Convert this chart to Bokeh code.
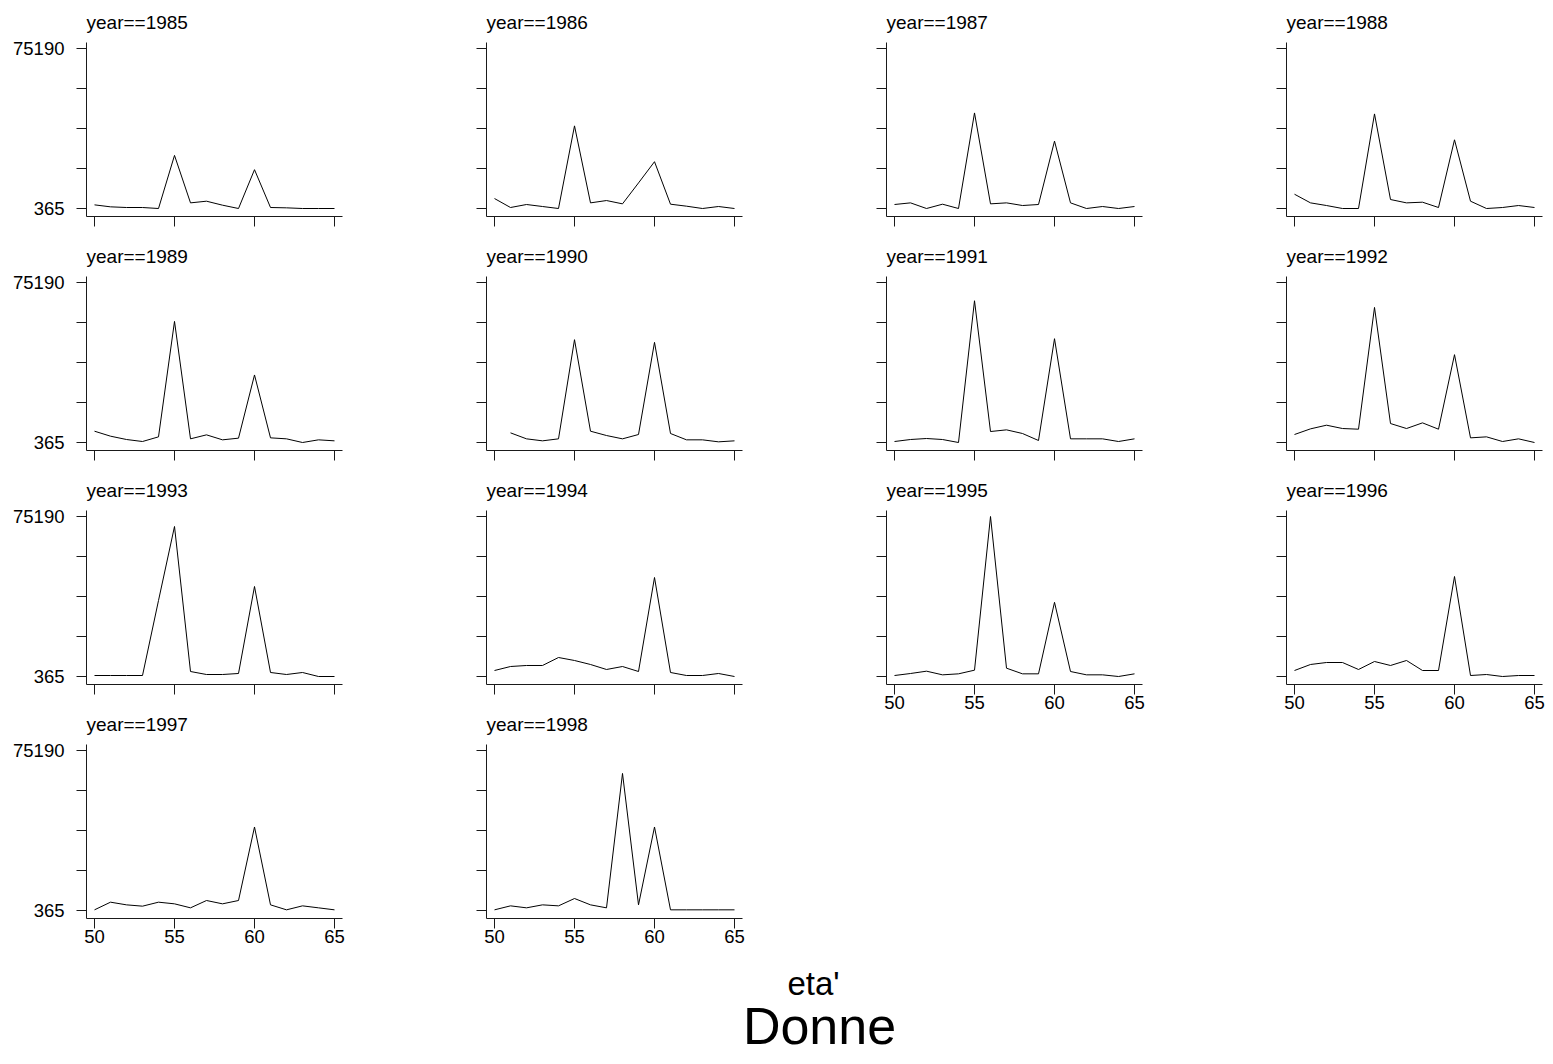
import math
from bokeh.plotting import figure
from bokeh.models import Range1d, FixedTicker, NumeralTickFormatter, Label
from bokeh.layouts import row, column
from bokeh.embed import file_html
from bokeh.resources import INLINE

# ---------------- data ----------------
ages = [50, 51, 52, 53, 54, 55, 56, 57, 58, 59, 60, 61, 62, 63, 64, 65]
nan = float("nan")

y1985 = [2070, 1140, 830, 830, 365, 25200, 3000, 3780, 1920, 365, 18520, 830, 675, 365, 365, 365]
y1986 = [5020, 830, 2230, 1300, 365, 39010, 3000, 4090, 2540, 12320, 22250, 2380, 1450, 365, 1300, 365]
y1987 = [2230, 3000, 365, 2380, 365, 45060, 2540, 3000, 1760, 2230, 31870, 3000, 365, 1300, 365, 1300]
y1988 = [7040, 3000, 1760, 365, 365, 44600, 4560, 3000, 3310, 830, 32490, 3780, 365, 830, 1760, 830]
y1989 = [5655, 3320, 1765, 830, 3010, 57000, 2075, 3945, 1610, 2390, 31950, 2540, 2075, 365, 1610, 1145]
y1990 = [nan, 4880, 2075, 1145, 2075, 48450, 5655, 3630, 2075, 4100, 47200, 4570, 1610, 1610, 676, 1145]
y1991 = [832, 1765, 2232, 1765, 365, 66650, 5500, 6280, 4570, 1300, 48910, 2075, 2075, 2075, 832, 2075]
y1992 = [4100, 6745, 8455, 6900, 6590, 63540, 9235, 6900, 9545, 6590, 41440, 2540, 3010, 830, 2075, 365]
y1993 = [830, 830, 830, 830, 35900, 70520, 2700, 1300, 1300, 1770, 42460, 2240, 1300, 2240, 365, 365]
y1994 = [3170, 5040, 5510, 5510, 9250, 7850, 5980, 3640, 5040, 2700, 46670, 2240, 830, 830, 1770, 365]
y1995 = [832, 1765, 2855, 1145, 1610, 3320, 75190, 4255, 1610, 1610, 35060, 2700, 1145, 1145, 365, 1610]
y1996 = [3170, 5980, 6910, 6910, 3640, 7380, 5510, 7850, 3170, 3170, 47130, 830, 1300, 365, 830, 830]
y1997 = [676, 4255, 3010, 2390, 4255, 3480, 1610, 5035, 3480, 5035, 39420, 3010, 676, 2540, 1610, 676]
y1998 = [676, 2540, 1610, 3010, 2540, 5970, 3010, 1610, 64470, 3010, 39420, 676, 676, 676, 676, 676]

years = [1985, 1986, 1987, 1988, 1989, 1990, 1991, 1992, 1993, 1994, 1995, 1996, 1997, 1998]
series = [y1985, y1986, y1987, y1988, y1989, y1990, y1991, y1992, y1993, y1994, y1995, y1996, y1997, y1998]

y_labels = [365, 75190]
y_minor = [19071.25, 37777.5, 56483.75]
x_ticks = [50, 55, 60, 65]

x_title = "eta'"
main_title = "Donne"

# ---------------- layout constants ----------------
FONT = "Liberation Sans"
FW, FH = 256, 174
LEFT, RIGHT, RIGHT_LAST = 86, 58, 3
TOP, BOT, BOT_LAB = 42, 18, 36
AXC = "#1a1a1a"

ppy = (y_labels[1] - y_labels[0]) / 160.0
Y_LO = y_labels[0] - 8 * ppy
Y_HI = y_labels[1] + 6 * ppy


def panel(year, vals, show_y, show_x, last_col):
    p = figure(frame_width=FW, frame_height=FH,
               x_range=Range1d(49.5, 65.5), y_range=Range1d(Y_LO, Y_HI),
               output_backend="svg", toolbar_location=None,
               min_border_left=LEFT, min_border_right=RIGHT_LAST if last_col else RIGHT,
               min_border_top=TOP, min_border_bottom=BOT_LAB if show_x else BOT,
               title="year==%d" % year)
    p.title.text_font = FONT
    p.title.text_font_size = "19px"
    p.title.text_font_style = "normal"
    p.title.text_color = "black"
    p.title.align = "left"
    p.title.offset = 0
    p.title.standoff = 19
    p.grid.visible = False
    p.outline_line_color = None
    p.background_fill_color = "white"
    p.border_fill_color = "white"

    p.line(ages, vals, line_color="black", line_width=1)

    xa = p.xaxis[0]
    if show_x:
        xa.ticker = FixedTicker(ticks=x_ticks, minor_ticks=[])
    else:
        xa.ticker = FixedTicker(ticks=[], minor_ticks=x_ticks)
    ya = p.yaxis[0]
    if show_y:
        ya.ticker = FixedTicker(ticks=y_labels, minor_ticks=y_minor)
    else:
        ya.ticker = FixedTicker(ticks=[], minor_ticks=y_labels + y_minor)
    ya.formatter = NumeralTickFormatter(format="0")
    xa.formatter = NumeralTickFormatter(format="0")

    for ax in (xa, ya):
        ax.axis_line_color = AXC
        ax.axis_line_width = 1
        ax.major_tick_line_color = AXC
        ax.minor_tick_line_color = AXC
        ax.major_tick_out = 10
        ax.minor_tick_out = 10
        ax.major_tick_in = 0
        ax.minor_tick_in = 0
        ax.major_label_text_font = FONT
        ax.major_label_text_font_size = "18.5px"
        ax.major_label_text_color = "black"
    xa.major_label_standoff = 1
    ya.major_label_standoff = 12
    return p


figs = [None] * len(years)
for i, (yr, vals) in enumerate(zip(years, series)):
    r, c = divmod(i, 4)
    show_y = (c == 0)
    show_x = yr in (1995, 1996, 1997, 1998)
    figs[i] = panel(yr, vals, show_y, show_x, c == 3)

cols = []
for c in range(4):
    cols.append(column([figs[i] for i in range(c, len(figs), 4)], spacing=0))
grid = row(cols, spacing=0)

TOTW = 3 * (LEFT + FW + RIGHT) + (LEFT + FW + RIGHT_LAST)
BH = 102
bottom = figure(width=TOTW, height=BH, x_range=Range1d(0, TOTW), y_range=Range1d(0, BH),
                x_axis_type=None, y_axis_type=None, output_backend="svg",
                toolbar_location=None, min_border=0)
bottom.grid.visible = False
bottom.outline_line_color = None
bottom.add_layout(Label(x=813, y=73, text=x_title, text_font=FONT, text_font_size="33px",
                        text_align="center", text_baseline="alphabetic", text_color="black"))
bottom.add_layout(Label(x=819, y=31, text=main_title, text_font=FONT, text_font_size="52px",
                        text_align="center", text_baseline="alphabetic", text_color="black"))

layout = column([grid, bottom], spacing=0)

with open("out.html", "w") as f:
    f.write(file_html(layout, INLINE))
